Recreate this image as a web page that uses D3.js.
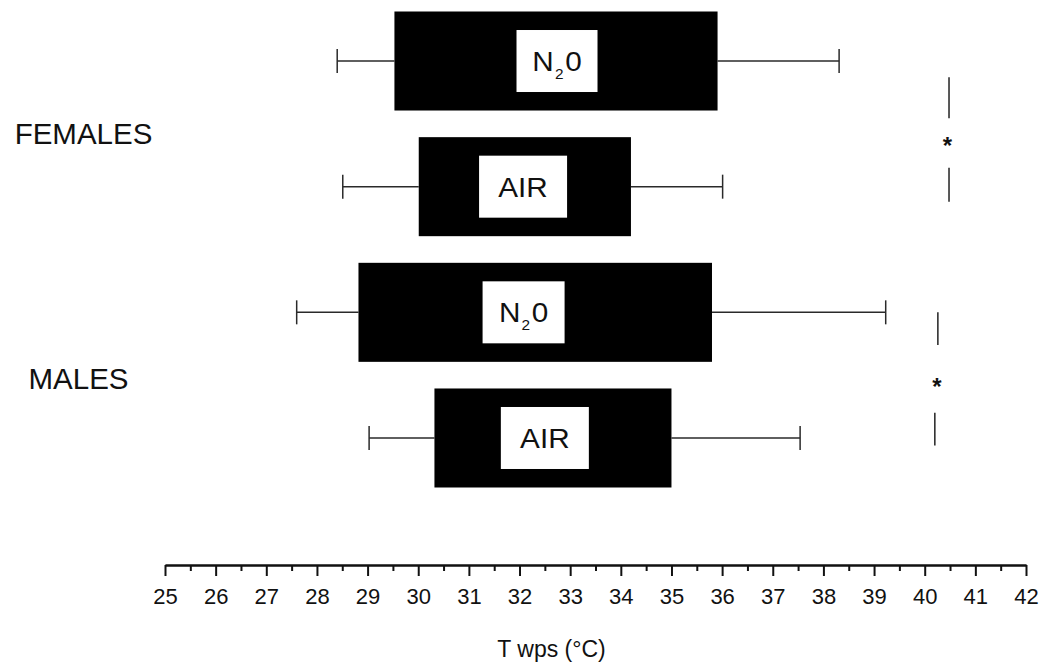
<!DOCTYPE html>
<html>
<head>
<meta charset="utf-8">
<script src="https://cdn.jsdelivr.net/npm/d3@7"></script>
<style>
  html, body { margin: 0; padding: 0; background: #fff; }
  svg { display: block; font-family: "Liberation Sans", Arial, sans-serif; }
</style>
</head>
<body>
<svg id="chart" width="1047" height="668"></svg>
<script>
// ---------- data ----------
const rowNames   = ["F_N2O", "F_AIR", "M_N2O", "M_AIR"];
const rowLabels  = ["N2O", "AIR", "N2O", "AIR"];
const whiskerLow = [28.40, 28.51, 27.60, 29.03];
const boxLow     = [29.53, 30.01, 28.82, 30.32];
const boxHigh    = [35.91, 34.20, 35.80, 35.00];
const whiskerHigh= [38.31, 36.01, 39.23, 37.54];
const labelAt    = [32.74, 32.07, 32.08, 32.50];   // x value where the label sits
const labelWidth = [81, 88, 82, 88];

const groups      = ["FEMALES", "MALES"];
const groupRows   = [[0, 1], [2, 3]];

// significance markers: x value and row-index positions
const sigX       = [[40.48, 40.48], [40.26, 40.20]];   // upper, lower line
const sigUpper   = [[0.13, 0.455], [2.0, 2.26]];
const sigLower   = [[0.85, 1.12], [2.8, 3.06]];
const sigStar    = [[40.45, 0.66], [40.24, 2.58]];

const axisMin = 25, axisMax = 42;
const majorTicks = d3.range(25, 43, 1);
const minorTicks = d3.range(25.5, 42, 1);
const axisTitle = "T wps (°C)";

// ---------- layout ----------
const svg = d3.select("#chart");
const x = d3.scaleLinear().domain([axisMin, axisMax]).range([165, 1026]);
const band = d3.scaleBand().domain(rowNames).range([11.5, 487.5]).paddingInner(0.212).paddingOuter(0);
const rowY = d3.scaleLinear().domain([0, 3]).range([band(rowNames[0]) + band.bandwidth() / 2, band(rowNames[3]) + band.bandwidth() / 2]);
const axisY = 565;
const ink = "#111";

const rows = rowNames.map((n, i) => ({
  name: n, label: rowLabels[i], wl: whiskerLow[i], bl: boxLow[i], bh: boxHigh[i], wh: whiskerHigh[i],
  lx: labelAt[i], lw: labelWidth[i], cy: band(n) + band.bandwidth() / 2
}));

// whiskers
const wg = svg.append("g").attr("stroke", "#2a2a2a").attr("stroke-width", 1.5);
wg.selectAll("line.wl").data(rows).join("line")
  .attr("x1", d => x(d.wl)).attr("x2", d => x(d.bl)).attr("y1", d => d.cy).attr("y2", d => d.cy);
wg.selectAll("line.wh").data(rows).join("line").attr("class", "wh")
  .attr("x1", d => x(d.bh)).attr("x2", d => x(d.wh)).attr("y1", d => d.cy).attr("y2", d => d.cy);
const capH = 12;
wg.selectAll("line.cl").data(rows).join("line").attr("class", "cl")
  .attr("x1", d => x(d.wl)).attr("x2", d => x(d.wl)).attr("y1", d => d.cy - capH).attr("y2", d => d.cy + capH);
wg.selectAll("line.ch").data(rows).join("line").attr("class", "ch")
  .attr("x1", d => x(d.wh)).attr("x2", d => x(d.wh)).attr("y1", d => d.cy - capH).attr("y2", d => d.cy + capH);

// boxes
svg.append("g").selectAll("rect").data(rows).join("rect")
  .attr("x", d => x(d.bl)).attr("width", d => x(d.bh) - x(d.bl))
  .attr("y", d => band(d.name)).attr("height", band.bandwidth())
  .attr("fill", "#000");

// label boxes
const lg = svg.append("g").selectAll("g").data(rows).join("g")
  .attr("transform", d => `translate(${x(d.lx)},${d.cy})`);
lg.append("rect")
  .attr("x", d => -d.lw / 2).attr("y", -31).attr("width", d => d.lw).attr("height", 62)
  .attr("fill", "#fff");
lg.each(function(d) {
  const t = d3.select(this).append("text")
    .attr("text-anchor", "middle").attr("y", 10).attr("fill", ink)
    .attr("font-size", 27).attr("transform", "scale(1.1,1)");
  if (d.label === "N2O") {
    t.append("tspan").text("N");
    t.append("tspan").attr("font-size", 14).attr("dy", 8).attr("dx", 1).text("2");
    t.append("tspan").attr("dy", -8).attr("dx", 1.5).text("0");
  } else {
    t.text(d.label);
  }
});

// group labels
const groupX = [83.5, 78.5];
svg.append("g").selectAll("text").data(groups).join("text")
  .attr("x", (d, i) => groupX[i])
  .attr("y", (d, i) => (rows[groupRows[i][0]].cy + rows[groupRows[i][1]].cy) / 2 + (i === 0 ? 20 : 14))
  .attr("text-anchor", "middle").attr("font-size", 29.5).attr("fill", ink)
  .text(d => d);

// significance markers
const sg = svg.append("g").attr("stroke", "#222").attr("stroke-width", 1.5);
groups.forEach((g, i) => {
  sg.append("line").attr("x1", x(sigX[i][0])).attr("x2", x(sigX[i][0]))
    .attr("y1", rowY(sigUpper[i][0])).attr("y2", rowY(sigUpper[i][1]));
  sg.append("line").attr("x1", x(sigX[i][1])).attr("x2", x(sigX[i][1]))
    .attr("y1", rowY(sigLower[i][0])).attr("y2", rowY(sigLower[i][1]));
  svg.append("text").attr("x", x(sigStar[i][0])).attr("y", rowY(sigStar[i][1]) + 10)
    .attr("text-anchor", "middle").attr("font-size", 24).attr("font-weight", "bold").attr("fill", ink)
    .text("*");
});

// axis
const minorAxis = d3.axisBottom(x).tickValues(minorTicks).tickSize(6).tickSizeOuter(0).tickFormat("");
const majorAxis = d3.axisBottom(x).tickValues(majorTicks).tickSize(11).tickSizeOuter(0).tickPadding(12)
  .tickFormat(d3.format("d"));
const ga1 = svg.append("g").attr("transform", `translate(0,${axisY})`).call(minorAxis);
const ga2 = svg.append("g").attr("transform", `translate(0,${axisY})`).call(majorAxis);
[ga1, ga2].forEach(g => {
  g.select(".domain").attr("stroke", ink).attr("stroke-width", 2.2);
  g.selectAll(".tick line").attr("stroke", ink).attr("stroke-width", 2);
});
ga2.selectAll(".tick text").attr("font-size", 22).attr("fill", ink)
  .attr("font-family", "Liberation Sans, Arial, sans-serif");

svg.append("text").attr("x", (x(axisMin) + x(axisMax)) / 2 - 44).attr("y", 657)
  .attr("text-anchor", "middle").attr("font-size", 23).attr("fill", ink).text(axisTitle);
</script>
</body>
</html>
